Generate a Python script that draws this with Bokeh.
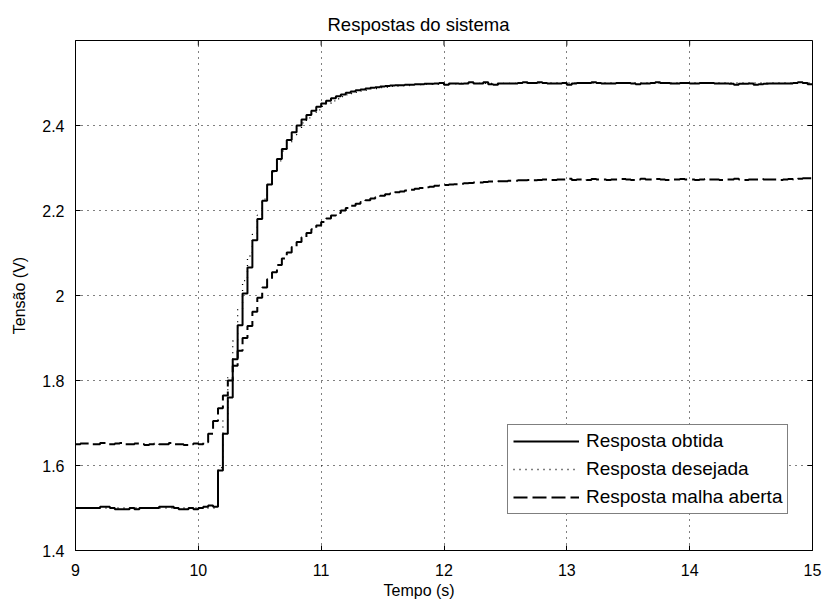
from bokeh.plotting import figure
from bokeh.models import Range1d, FixedTicker, Legend, LegendItem, Title
from bokeh.embed import file_html
from bokeh.resources import INLINE
import math

t_start = 9.0
t_step = 0.04

resposta_obtida = [
    1.500, 1.500, 1.500, 1.500, 1.500, 1.503, 1.503, 1.500, 1.497, 1.497,
    1.497, 1.500, 1.497, 1.500, 1.500, 1.500, 1.500, 1.503, 1.503, 1.503,
    1.500, 1.497, 1.497, 1.500, 1.497, 1.500, 1.503, 1.506, 1.503, 1.588,
    1.675, 1.760, 1.850, 1.930, 2.005, 2.066, 2.130, 2.180, 2.223, 2.261,
    2.293, 2.321, 2.345, 2.366, 2.384, 2.400, 2.414, 2.425, 2.435, 2.444,
    2.452, 2.458, 2.464, 2.469, 2.473, 2.477, 2.480, 2.483, 2.485, 2.487,
    2.489, 2.490, 2.492, 2.493, 2.494, 2.495, 2.495, 2.496, 2.496, 2.497,
    2.497, 2.498, 2.498, 2.499, 2.500, 2.496, 2.499, 2.499, 2.498, 2.499,
    2.502, 2.499, 2.499, 2.502, 2.497, 2.496, 2.499, 2.499, 2.499, 2.499,
    2.500, 2.502, 2.500, 2.500, 2.502, 2.500, 2.499, 2.499, 2.499, 2.500,
    2.496, 2.499, 2.500, 2.500, 2.500, 2.502, 2.500, 2.499, 2.499, 2.499,
    2.500, 2.500, 2.500, 2.499, 2.497, 2.499, 2.499, 2.500, 2.502, 2.500,
    2.500, 2.499, 2.499, 2.500, 2.500, 2.499, 2.499, 2.500, 2.500, 2.500,
    2.499, 2.499, 2.499, 2.498, 2.496, 2.498, 2.498, 2.499, 2.496, 2.497,
    2.498, 2.499, 2.499, 2.499, 2.499, 2.499, 2.500, 2.502, 2.500, 2.497,
    2.497,
]

resposta_desejada = [
    1.500, 1.500, 1.500, 1.500, 1.500, 1.500, 1.500, 1.500, 1.500, 1.500,
    1.500, 1.500, 1.500, 1.500, 1.500, 1.500, 1.500, 1.500, 1.500, 1.500,
    1.500, 1.500, 1.500, 1.500, 1.500, 1.500, 1.500, 1.500, 1.500, 1.595,
    1.708, 1.807, 1.893, 1.969, 2.035, 2.093, 2.144, 2.189, 2.227, 2.261,
    2.291, 2.317, 2.340, 2.360, 2.378, 2.393, 2.406, 2.418, 2.428, 2.437,
    2.445, 2.452, 2.458, 2.463, 2.468, 2.472, 2.475, 2.478, 2.481, 2.483,
    2.486, 2.487, 2.489, 2.490, 2.492, 2.493, 2.494, 2.494, 2.495, 2.496,
    2.496, 2.497, 2.497, 2.497, 2.498, 2.498, 2.498, 2.498, 2.499, 2.499,
    2.499, 2.499, 2.499, 2.499, 2.499, 2.499, 2.499, 2.499, 2.499, 2.499,
    2.500, 2.500, 2.500, 2.500, 2.500, 2.500, 2.500, 2.500, 2.500, 2.500,
    2.500, 2.500, 2.500, 2.500, 2.500, 2.500, 2.500, 2.500, 2.500, 2.500,
    2.500, 2.500, 2.500, 2.500, 2.500, 2.500, 2.500, 2.500, 2.500, 2.500,
    2.500, 2.500, 2.500, 2.500, 2.500, 2.500, 2.500, 2.500, 2.500, 2.500,
    2.500, 2.500, 2.500, 2.500, 2.500, 2.500, 2.500, 2.500, 2.500, 2.500,
    2.500, 2.500, 2.500, 2.500, 2.500, 2.500, 2.500, 2.500, 2.500, 2.500,
    2.500,
]

resposta_malha_aberta = [
    1.650, 1.652, 1.652, 1.650, 1.650, 1.653, 1.650, 1.650, 1.652, 1.653,
    1.650, 1.650, 1.652, 1.650, 1.648, 1.650, 1.652, 1.650, 1.650, 1.653,
    1.650, 1.650, 1.648, 1.650, 1.652, 1.650, 1.655, 1.675, 1.705, 1.735,
    1.765, 1.800, 1.835, 1.870, 1.900, 1.928, 1.962, 1.995, 2.019, 2.038,
    2.055, 2.072, 2.087, 2.101, 2.114, 2.126, 2.137, 2.147, 2.156, 2.165,
    2.173, 2.181, 2.188, 2.194, 2.200, 2.206, 2.211, 2.216, 2.220, 2.224,
    2.228, 2.231, 2.235, 2.238, 2.240, 2.243, 2.245, 2.247, 2.249, 2.251,
    2.253, 2.255, 2.256, 2.258, 2.259, 2.260, 2.261, 2.262, 2.263, 2.264,
    2.265, 2.266, 2.266, 2.267, 2.268, 2.268, 2.269, 2.269, 2.270, 2.270,
    2.271, 2.271, 2.272, 2.271, 2.272, 2.273, 2.272, 2.272, 2.273, 2.273,
    2.275, 2.272, 2.273, 2.273, 2.272, 2.274, 2.273, 2.273, 2.272, 2.273,
    2.273, 2.274, 2.273, 2.272, 2.273, 2.275, 2.273, 2.273, 2.274, 2.273,
    2.272, 2.273, 2.273, 2.274, 2.273, 2.273, 2.272, 2.273, 2.274, 2.273,
    2.273, 2.272, 2.273, 2.273, 2.275, 2.273, 2.272, 2.273, 2.273, 2.274,
    2.273, 2.273, 2.273, 2.272, 2.273, 2.274, 2.273, 2.275, 2.276, 2.276,
    2.276,
]

tempo = [round(t_start + t_step * i, 2) for i in range(len(resposta_obtida))]

x_min, x_max = 9, 15
y_min, y_max = 1.4, 2.6
x_ticks = [9, 10, 11, 12, 13, 14, 15]
y_ticks = [1.4, 1.6, 1.8, 2.0, 2.2, 2.4]
y_tick_labels = {1.4: "1.4", 1.6: "1.6", 1.8: "1.8", 2.0: "2", 2.2: "2.2", 2.4: "2.4"}

titulo = "Respostas do sistema"
rotulo_x = "Tempo (s)"
rotulo_y = "Tensão (V)"
nomes = ["Resposta obtida", "Resposta desejada", "Resposta malha aberta"]

# ---- styling ----
FONT = "Liberation Sans"

p = figure(width=822, height=604, x_range=Range1d(x_min, x_max), y_range=Range1d(y_min, y_max),
           output_backend="svg", toolbar_location=None,
           min_border_left=75, min_border_right=10, min_border_top=40, min_border_bottom=54)
p.background_fill_color = "white"
p.border_fill_color = "white"
p.outline_line_color = "black"
p.outline_line_width = 1

p.title.text = titulo
p.title.text_font = FONT
p.title.text_font_size = "18.5px"
p.title.text_font_style = "normal"
p.title.text_color = "black"
p.title.align = "left"
p.title.offset = 252
p.title.vertical_align = "top"
p.title.standoff = 8

for ax in (p.xaxis[0], p.yaxis[0]):
    ax.major_tick_in = 5
    ax.major_tick_out = 0
    ax.minor_tick_line_color = None
    ax.axis_line_color = "black"
    ax.major_tick_line_color = "black"
    ax.major_label_text_font = FONT
    ax.major_label_text_font_size = "16px"
    ax.major_label_text_color = "black"
    ax.axis_label_text_font = FONT
    ax.axis_label_text_font_size = "16px"
    ax.axis_label_text_font_style = "normal"
    ax.axis_label_text_color = "black"

p.xaxis[0].ticker = FixedTicker(ticks=x_ticks)
p.xaxis[0].major_label_standoff = 13
p.yaxis[0].ticker = FixedTicker(ticks=y_ticks)
p.yaxis[0].major_label_overrides = y_tick_labels
p.yaxis[0].major_label_standoff = 11
p.yaxis[0].axis_label = rotulo_y
p.yaxis[0].axis_label_standoff = 11

# x label as a title below, shifted like the reference
xl = Title(text=rotulo_x, align="left", offset=308, text_font=FONT,
           text_font_size="16px", text_font_style="normal", text_color="black", standoff=2)
p.add_layout(xl, "below")

p.xgrid.ticker = FixedTicker(ticks=x_ticks)
p.ygrid.ticker = FixedTicker(ticks=y_ticks)
for g in (p.xgrid[0], p.ygrid[0]):
    g.grid_line_color = "black"
    g.grid_line_width = 1
    g.grid_line_dash = "1 5"

# mirrored inward tick marks on the top and right edges (clipped to the frame)
p.scatter(x=x_ticks, y=[y_max] * len(x_ticks), marker="dash", angle=math.pi / 2,
          size=10, line_color="black", line_width=1)
p.scatter(x=[x_max] * len(y_ticks), y=y_ticks, marker="dash",
          size=10, line_color="black", line_width=1)

r_des = p.step(tempo, resposta_desejada, mode="after", line_color="black",
               line_width=1.3, line_dash="1 5")
r_ab = p.step(tempo, resposta_malha_aberta, mode="after", line_color="black",
              line_width=2, line_dash="14 5")
r_obt = p.step(tempo, resposta_obtida, mode="after", line_color="black", line_width=2)

legend = Legend(items=[LegendItem(label=nomes[0], renderers=[r_obt]),
                       LegendItem(label=nomes[1], renderers=[r_des]),
                       LegendItem(label=nomes[2], renderers=[r_ab])],
                location=(432, 36), orientation="vertical")
legend.label_text_font = FONT
legend.label_text_font_size = "19px"
legend.label_text_color = "black"
legend.glyph_width = 66
legend.glyph_height = 20
legend.label_height = 20
legend.label_standoff = 7
legend.spacing = 6
legend.padding = 5
legend.margin = 0
legend.border_line_color = "black"
legend.border_line_width = 1
legend.background_fill_color = "white"
legend.background_fill_alpha = 1
p.add_layout(legend, "center")

open("out.html", "w").write(file_html(p, INLINE))
